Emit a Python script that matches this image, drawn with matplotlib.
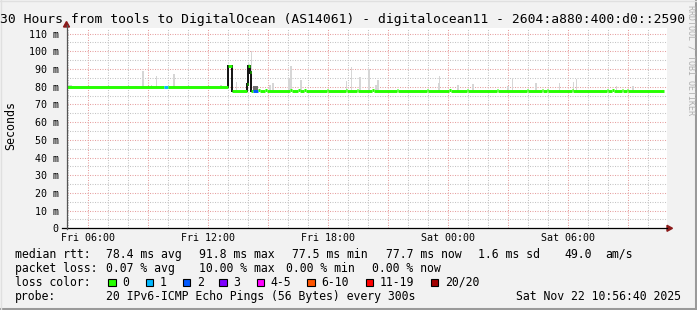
import numpy as np
import matplotlib
matplotlib.use("Agg")
import matplotlib.pyplot as plt
from matplotlib.patches import Rectangle, Polygon
from matplotlib.lines import Line2D

W, H = 697, 310
MONO = "DejaVu Sans Mono"

# time axis: hours since Fri 00:00
t_start = 4 + 56 / 60 + 40 / 3600
t_end = t_start + 30
step = 5 / 60  # 300 s probe interval
y_max = 113

y_ticks = [0, 10, 20, 30, 40, 50, 60, 70, 80, 90, 100, 110]
y_tick_labels = ["0", "10 m", "20 m", "30 m", "40 m", "50 m", "60 m",
                 "70 m", "80 m", "90 m", "100 m", "110 m"]
x_ticks = [6, 12, 18, 24, 30]
x_tick_labels = ["Fri 06:00", "Fri 12:00", "Fri 18:00", "Sat 00:00", "Sat 06:00"]

# median rtt (ms) as runs: start hour, value, loss class
early_edges = [t_start, 9.82, 10.02, 13.03, 13.20, 13.98, 14.03, 14.12, 14.19, 14.28, 14.50]
early_vals = [80.0, 80.0, 80.0, 91.6, 77.6, 81.4, 91.6, 88.2, 77.6, 77.7]
early_loss = [0, 1, 0, 0, 0, 0, 0, 0, 0, 2]
base_val = 77.6
bump_val = 78.2
bump_hours = [14.53, 14.87, 16.12, 16.53, 16.83, 17.95, 18.90, 19.45, 20.23,
              21.45, 22.95, 24.08, 24.95, 26.45, 27.95, 28.70, 28.95, 30.20,
              31.95, 32.23, 32.70, 32.95]
last_hour = 34.82

# smoke spikes: hour, top of smoke (ms)
smoke_hours = [5.08, 5.17, 7.67, 8.42, 8.78, 9.20, 9.45, 10.33, 11.20, 12.12,
               12.67, 13.44, 14.08, 14.20, 15.12, 15.28, 16.08, 16.17, 16.67,
               18.95, 19.19, 19.62, 20.08, 20.42, 20.52, 23.54, 23.60, 24.53,
               25.28, 27.03, 27.25, 28.42, 29.59, 30.29, 30.44, 32.45, 33.27]
smoke_top = [80.8, 80.8, 80.6, 80.6, 88.9, 80.8, 85.9, 87.0, 80.4, 80.4,
             81.0, 82.6, 93.0, 100.2, 80.8, 82.1, 85.0, 91.5, 83.6,
             83.3, 91.1, 85.3, 90.1, 80.8, 83.6, 82.0, 85.9, 81.2,
             81.4, 80.4, 85.2, 82.1, 82.1, 82.7, 84.3, 80.4, 80.2]
dark_smoke = (14.28, 14.50, 77.7, 80.3)

loss_labels = ["0", "1", "2", "3", "4-5", "6-10", "11-19", "20/20"]
loss_colors = ["#26ff00", "#00b8ff", "#0059ff", "#7e00ff", "#ff00ff",
               "#ff5500", "#ff0000", "#a10000"]

# assemble run list
edges = list(early_edges)
vals = list(early_vals)
loss = list(early_loss)
for b in bump_hours:
    vals.append(base_val); loss.append(0); edges.append(b)
    vals.append(bump_val); loss.append(0); edges.append(b + step)
vals.append(base_val); loss.append(0); edges.append(last_hour)
edges = np.array(edges)
vals = np.array(vals)


def median_at(h):
    i = np.searchsorted(edges, h, side="right") - 1
    return vals[min(max(i, 0), len(vals) - 1)]


def fx(x):
    return x / W


def fy(y):
    return 1 - y / H


fig = plt.figure(figsize=(W / 100, H / 100), dpi=100, facecolor="#f2f2f2")

x0, x1, y0, y1 = 66.5, 666.5, 228.3, 28.3
ax = fig.add_axes([fx(x0), fy(y0), (x1 - x0) / W, (y0 - y1) / H])
ax.set_facecolor("white")
ax.set_xlim(t_start, t_end)
ax.set_ylim(0, y_max)
for s in ax.spines.values():
    s.set_visible(False)

# grid
for h in range(5, 35):
    c = "#e6a0a0" if h % 3 == 0 else "#c4c4c4"
    ax.axvline(h, color=c, lw=0.75, ls=(0, (1, 1.4)), zorder=0)
for v in range(5, 115, 5):
    c = "#e6a0a0" if v % 10 == 0 else "#c4c4c4"
    ax.axhline(v, color=c, lw=0.75, ls=(0, (1, 1.4)), zorder=0)

# smoke
bases = [median_at(h) for h in smoke_hours]
ax.bar(smoke_hours, np.array(smoke_top) - np.array(bases), bottom=bases,
       width=step, color="#d6d6d6", linewidth=0, zorder=1)
ax.add_patch(Rectangle((dark_smoke[0], dark_smoke[2]), dark_smoke[1] - dark_smoke[0],
                       dark_smoke[3] - dark_smoke[2], color="#707070", lw=0, zorder=1))

# median: black connectors at large jumps, then loss-coloured segments
for i in range(len(vals) - 1):
    if abs(vals[i + 1] - vals[i]) > 1.5:
        ax.vlines(edges[i + 1], min(vals[i], vals[i + 1]) - 0.8, max(vals[i], vals[i + 1]) + 0.6,
                  color="black", lw=1.3, zorder=2)
for i in range(len(vals)):
    ax.hlines(vals[i], edges[i], edges[i + 1], color=loss_colors[loss[i]],
              lw=2.1, zorder=3)

ax.set_yticks(y_ticks, y_tick_labels, fontfamily=MONO, fontsize=7.2)
ax.set_xticks(x_ticks, x_tick_labels, fontfamily=MONO, fontsize=7.2)
ax.tick_params(axis="y", length=0, pad=5.5)
ax.tick_params(axis="x", length=0, pad=3.2)

# axis lines and arrows
fig.add_artist(Line2D([fx(62), fx(667)], [fy(y0), fy(y0)], color="black", lw=0.9))
fig.add_artist(Line2D([fx(x0), fx(x0)], [fy(y0 + 0.5), fy(25)], color="#555555", lw=0.9))
fig.add_artist(Polygon([[fx(x0), fy(21.5)], [fx(x0 - 3), fy(27)], [fx(x0 + 3), fy(27)]],
                       closed=True, color="#8b1a1a", transform=fig.transFigure))
fig.add_artist(Polygon([[fx(672.5), fy(y0)], [fx(667), fy(y0 - 3)], [fx(667), fy(y0 + 3)]],
                       closed=True, color="#8b1a1a", transform=fig.transFigure))

# title and side labels
fig.text(fx(343), fy(23.5), "30 Hours from tools to DigitalOcean (AS14061) - digitalocean11 - 2604:a880:400:d0::2590",
         ha="center", va="baseline", fontfamily=MONO, fontsize=9.4)
fig.text(fx(10.5), fy(125), "Seconds", rotation=90, ha="center", va="center",
         fontfamily=MONO, fontsize=8.4)
fig.text(fx(690.5), fy(60), "RRDTOOL / TOBI OETIKER", rotation=270, ha="center", va="center",
         fontfamily=MONO, fontsize=6.0, color="#b0b0b0")

# legend / stats
rows = [257.6, 271.6, 285.7, 299.8]
fs = 8.3
line1 = [(16, "median rtt:"), (107.3, "78.4 ms avg"), (200, "91.8 ms max"),
         (293.3, "77.5 ms min"), (386.7, "77.7 ms now"), (479, "1.6 ms sd"),
         (565, "49.0"), (606.7, "am/s")]
line2 = [(16, "packet loss:"), (107.3, "0.07 % avg"), (200, "10.00 % max"),
         (286.7, "0.00 % min"), (372.7, "0.00 % now")]
for x, s in line1:
    fig.text(fx(x - 1), fy(rows[0]), s, ha="left", va="baseline", fontfamily=MONO, fontsize=fs)
for x, s in line2:
    fig.text(fx(x - 1), fy(rows[1]), s, ha="left", va="baseline", fontfamily=MONO, fontsize=fs)

fig.text(fx(15), fy(rows[2]), "loss color:", ha="left", va="baseline", fontfamily=MONO, fontsize=fs)
swatch_x = [108.3, 145.7, 182.7, 219.3, 256.7, 307.3, 365.7, 430.7]
for sx, lab, col in zip(swatch_x, loss_labels, loss_colors):
    fig.add_artist(Rectangle((fx(sx), fy(286.3)), 7.3 / W, 7.3 / H, facecolor=col,
                             edgecolor="black", lw=0.8, transform=fig.transFigure))
    fig.text(fx(sx + 14), fy(rows[2]), lab, ha="left", va="baseline", fontfamily=MONO, fontsize=fs)

fig.text(fx(15), fy(rows[3]), "probe:", ha="left", va="baseline", fontfamily=MONO, fontsize=fs)
fig.text(fx(106.3), fy(rows[3]), "20 IPv6-ICMP Echo Pings (56 Bytes) every 300s",
         ha="left", va="baseline", fontfamily=MONO, fontsize=fs)
fig.text(fx(681), fy(rows[3]), "Sat Nov 22 10:56:40 2025", ha="right", va="baseline",
         fontfamily=MONO, fontsize=fs)

# frame
fig.add_artist(Line2D([fx(695.5), fx(695.5)], [0, 1], color="#9a9a9a", lw=2.2))
fig.add_artist(Line2D([0, 1], [fy(308.5), fy(308.5)], color="#9a9a9a", lw=2.2))
fig.add_artist(Line2D([fx(0.5), fx(0.5)], [0, 1], color="#e0e0e0", lw=1.0))
fig.add_artist(Line2D([0, 1], [fy(0.5), fy(0.5)], color="#e0e0e0", lw=1.0))

fig.savefig("out.png", dpi=100, facecolor=fig.get_facecolor())
